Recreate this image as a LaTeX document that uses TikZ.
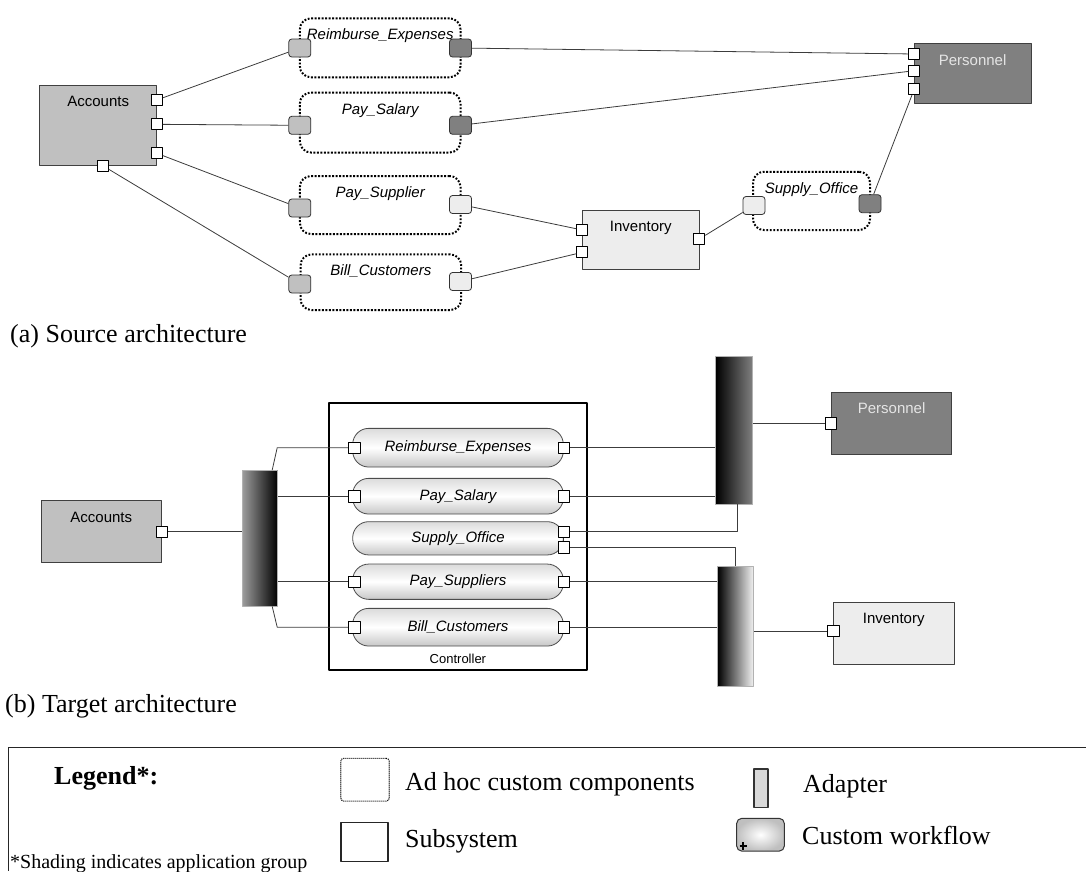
\documentclass[tikz,border=0pt]{standalone}
\usepackage{fontspec}
\setmainfont{Liberation Serif}
\setsansfont{Liberation Sans}
\definecolor{accgrey}{HTML}{C0C0C0}
\definecolor{pergrey}{HTML}{808080}
\definecolor{invgrey}{HTML}{EDEDED}
\definecolor{wire}{HTML}{3C3C3C}
\begin{document}
\begin{tikzpicture}[x=1pt, y=-1pt, line join=round,
		comp/.style={draw=black!75, line width=0.8pt, inner sep=0pt, text height=21.5pt, font=\sffamily\fontsize{15}{18}\selectfont},
		adhoc/.style={draw=black, line width=2pt, dash pattern=on 1.8pt off 1.7pt, rounded corners=11pt, inner sep=0pt, text height=21.5pt, font=\sffamily\itshape\fontsize{15}{18}\selectfont},
		aport/.style={draw=black!80, line width=0.8pt, rounded corners=3pt, minimum width=22, minimum height=18, inner sep=0pt},
		bport/.style={draw=black, line width=0.8pt, fill=white, minimum size=11.5, inner sep=0pt},
		flow/.style={draw=black!70, line width=0.8pt, rounded corners=16pt, minimum width=210.6, inner sep=0pt, top color=black!14, bottom color=black!22, middle color=white, font=\sffamily\itshape\fontsize{15}{18}\selectfont},
		adapter/.style={draw=black!30, line width=0.8pt, inner sep=0pt},
		wire/.style={draw=wire, line width=0.8pt},
		captext/.style={anchor=west, inner sep=0pt, font=\fontsize{26}{30}\selectfont}]
	\useasboundingbox (0,0) rectangle (1086,871);

	% (a) source architecture
	\node[comp, fill=accgrey, minimum width=117, text depth=59.2pt] (accA) at (98.2,125.3) {Accounts};
	\node[comp, fill=invgrey, minimum width=117, text depth=37.8pt] (invA) at (640.8,239.7) {Inventory};
	\node[comp, fill=pergrey, text=white!90!black, minimum width=116.6, text depth=37.8pt] (perA) at (972.6,73.4) {Personnel};

	\node[adhoc, minimum width=160.6, text depth=37.5pt] (reimA) at (380.2,47.8) {Reimburse\_Expenses};
	\node[adhoc, minimum width=160.6, text depth=38.5pt] (salA) at (380.2,122.5) {Pay\_Salary};
	\node[adhoc, minimum width=160.6, text depth=36.5pt] (supA) at (380.2,205) {Pay\_Supplier};
	\node[adhoc, minimum width=160.6, text depth=34.2pt] (billA) at (380.9,282.2) {Bill\_Customers};
	\node[adhoc, minimum width=117, text depth=36.8pt] (soA) at (811.5,200.9) {Supply\_Office};

	\foreach \nm/\xx/\yy/\cl in {reimAl/299.8/48/accgrey, reimAr/460.5/48/pergrey,
			salAl/299.8/125.3/accgrey, salAr/460.5/125.3/pergrey,
			supAl/299.8/208/accgrey, supAr/460.5/204.5/invgrey,
			billAl/299.8/284/accgrey, billAr/460.5/281.5/invgrey,
			soAl/754/205.5/invgrey, soAr/870/203.7/pergrey}
		\node[aport, fill=\cl] (\nm) at (\xx,\yy) {};

	\foreach \nm/\xx/\yy in {accA1/156.8/100, accA2/156.8/124.3, accA3/156.8/153.3, accA4/102.8/165.7,
			invA1/582.3/230, invA2/582.3/252.3, invA3/699.3/239,
			perA1/914.3/54, perA2/914.3/70.7, perA3/914.3/89}
		\node[bport, minimum size=11] (\nm) at (\xx,\yy) {};

	\draw[wire] (accA1) -- (reimAl);
	\draw[wire] (accA2) -- (salAl);
	\draw[wire] (accA3) -- (supAl);
	\draw[wire] (accA4) -- (billAl);
	\draw[wire] (reimAr) -- (perA1);
	\draw[wire] (salAr) -- (perA2);
	\draw[wire] (supAr) -- (invA1);
	\draw[wire] (billAr) -- (invA2);
	\draw[wire] (invA3) -- (soAl);
	\draw[wire] (soAr) -- (perA3);

	\node[captext] (capA) at (10,336.7) {(a) Source architecture};

	% (b) target architecture
	\node[comp, fill=accgrey, minimum width=120.7, text depth=40.5pt] (accB) at (101.3,531.7) {Accounts};
	\node[bport] (accBp) at (accB.east) {};
	\node[adapter, left color=black!38, right color=black, minimum width=35.8, minimum height=135.5] (adA) at (259.9,538.2) {};

	\node[draw=black, line width=2pt, inner sep=0pt, minimum width=257.2, text height=261.3pt, text depth=6pt, font=\sffamily\fontsize{13}{15}\selectfont] (ctrl) at (457.9,536.3) {Controller};

	\foreach \nm/\txt/\yy/\hh in {RE/Reimburse\_Expenses/447.7/38.7, PS/Pay\_Salary/496.2/35.7,
			SO/Supply\_Office/538.3/33.3, PU/Pay\_Suppliers/581.7/35.3, BC/Bill\_Customers/627.2/37.7}
		\node[flow, minimum height=\hh] (wf\nm) at (458,\yy) {\txt};

	\foreach \nm in {RE,PS,PU,BC} {
		\node[bport] (lp\nm) at ([xshift=2pt]wf\nm.west) {};
		\node[bport] (rp\nm) at (wf\nm.east) {};
	}
	\node[bport] (rpSOa) at (563.7,531.8) {};
	\node[bport] (rpSOb) at (563.7,547.5) {};
	\draw[wire] (rpSOa) -- (rpSOb);

	\node[adapter, left color=black, right color=black!50, minimum width=36.6, minimum height=148] (adB) at (734.1,430) {};
	\node[adapter, left color=black, right color=black!5, minimum width=36, minimum height=119.3] (adC) at (735.5,626.3) {};

	\node[comp, fill=pergrey, text=white!90!black, minimum width=120.5, text depth=41.2pt] (perB) at (891.6,423.3) {Personnel};
	\node[bport] (perBp) at (perB.west) {};
	\node[comp, fill=invgrey, minimum width=120.7, text depth=40pt] (invB) at (893.7,633.2) {Inventory};
	\node[bport] (invBp) at (833.4,631) {};

	\coordinate (adAtop) at ([xshift=-6pt]adA.north east);
	\coordinate (adAbendT) at ([xshift=-1pt]adA.north east);
	\coordinate (adAbot) at ([xshift=-6pt]adA.south east);
	\coordinate (adAbendB) at ([xshift=-1pt]adA.south east);

	\draw[wire] (accBp) -- (accBp -| adA.west);
	\draw[wire] (adAtop) -- (adAbendT |- lpRE) -- (lpRE);
	\draw[wire] (lpPS -| adA.east) -- (lpPS);
	\draw[wire] (lpPU -| adA.east) -- (lpPU);
	\draw[wire] (adAbot) -- (adAbendB |- lpBC) -- (lpBC);

	\draw[wire] (rpRE) -- (rpRE -| adB.west);
	\draw[wire] (rpPS) -- (rpPS -| adB.west);
	\draw[wire] (rpSOa) -| ([xshift=3.4pt]adB.south);
	\draw[wire] (rpSOb) -| (adC.north);
	\draw[wire] (rpPU) -- (rpPU -| adC.west);
	\draw[wire] (rpBC) -- (rpBC -| adC.west);
	\draw[wire] (perBp -| adB.east) -- (perBp);
	\draw[wire] (invBp -| adC.east) -- (invBp);

	\node[captext] (capB) at (5,706.7) {(b) Target architecture};

	% legend
	\draw[line width=1.6pt, black!85] (1086,747.3) -- (8.3,747.3) -- (8.3,871);
	\node[captext, font=\bfseries\fontsize{26}{30}\selectfont] (lgTitle) at (54,778) {Legend*:};
	\node[draw=black, line width=1.1pt, dash pattern=on 1pt off 1pt, rounded corners=3pt, minimum width=48.5, minimum height=42.7, inner sep=0pt] (lgAdhoc) at (365,779.7) {};
	\node[captext] (lgAdhocT) at (405,784.3) {Ad hoc custom components};
	\node[draw=black!80, line width=1.2pt, fill=black!15, minimum width=14, minimum height=38.7, inner sep=0pt] (lgAdapt) at (761,788.3) {};
	\node[captext] (lgAdaptT) at (803,786.7) {Adapter};
	\node[draw=black!85, line width=1.5pt, minimum width=47.3, minimum height=39, inner sep=0pt] (lgSub) at (364.4,842.2) {};
	\node[captext] (lgSubT) at (405,841.7) {Subsystem};
	\node[draw=black!80, line width=1pt, rounded corners=5pt, inner color=white, outer color=black!25, minimum width=47.6, minimum height=32.7, inner sep=0pt] (lgFlow) at (760.5,834.7) {};
	\draw[line width=1.6pt] (739.5,846) -- (747,846) (743.2,842.3) -- (743.2,849.7);
	\node[captext] (lgFlowT) at (802,835) {Custom workflow};
	\node[captext, font=\fontsize{20}{22}\selectfont] (lgNote) at (10,863.3) {*Shading indicates application group};
\end{tikzpicture}
\end{document}
